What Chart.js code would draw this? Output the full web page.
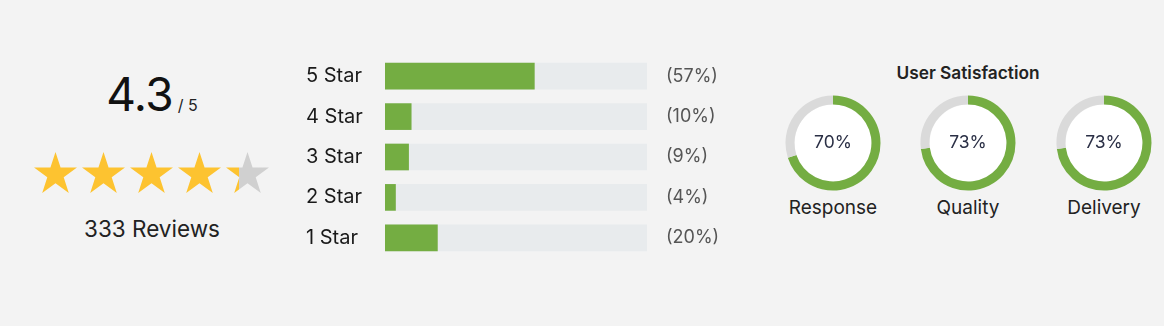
<!DOCTYPE html>
<html>
<head>
<meta charset="utf-8">
<script src="https://cdn.jsdelivr.net/npm/chart.js@4"></script>
<style>
  html, body { margin: 0; padding: 0; }
  body { width: 1164px; height: 326px; background: #f3f3f3; font-family: Inter, "Noto Sans", sans-serif; position: relative; overflow: hidden; color: #111; }
  .score { position: absolute; left: 0; width: 304px; top: 66px; text-align: center; }
  .score .big { font-size: 46px; color: #111; letter-spacing: -0.5px; }
  .score .small { font-size: 16px; color: #222; }
  #stars { position: absolute; left: 34px; top: 152px; }
  .reviews { position: absolute; left: 0; width: 304px; top: 215px; text-align: center; font-size: 22.5px; color: #222; }
  #barWrap { position: absolute; left: 306px; top: 56px; width: 421px; height: 202px; }
  .sat-title { position: absolute; left: 868px; width: 200px; top: 62px; text-align: center; font-size: 17.3px; font-weight: 600; color: #222; }
  .ring { position: absolute; top: 93px; width: 100px; height: 100px; }
  .ring-label { position: absolute; top: 196px; width: 160px; text-align: center; font-size: 19px; color: #222; }
</style>
</head>
<body>
<div class="score"><span class="big">4.3</span><span class="small"> / 5</span></div>
<div id="stars"></div>
<div class="reviews" id="reviews"></div>
<div id="barWrap"><canvas id="bars"></canvas></div>
<div class="sat-title">User Satisfaction</div>
<div id="rings"></div>
<script>
// rating summary
const rating = 4.3;
const maxRating = 5;
const reviewCount = 333;

// star breakdown
const starLabels = ['5 Star', '4 Star', '3 Star', '2 Star', '1 Star'];
const starPercents = [57, 10, 9, 4, 20];

// user satisfaction
const satLabels = ['Response', 'Quality', 'Delivery'];
const satValues = [70, 73, 73];
const satCenters = [833, 968, 1104];

const green = '#74ad42';

document.getElementById('reviews').textContent = reviewCount + ' Reviews';

// stars as svg, last one partly filled
(function () {
  const R = 22.6, r = R * 0.382, pitch = 48;
  let pts = [];
  for (let k = 0; k < 10; k++) {
    const a = -Math.PI / 2 + k * Math.PI / 5;
    const rad = k % 2 === 0 ? R : r;
    pts.push((rad * Math.cos(a)).toFixed(2) + ',' + (rad * Math.sin(a)).toFixed(2));
  }
  let svg = '<svg width="' + (pitch * maxRating) + '" height="42">';
  for (let i = 0; i < maxRating; i++) {
    const fill = Math.max(0, Math.min(1, rating - i));
    const id = 'g' + i;
    svg += '<defs><linearGradient id="' + id + '" x1="0" x2="1" y1="0" y2="0">' +
      '<stop offset="' + fill + '" stop-color="#fdc330"/><stop offset="' + fill + '" stop-color="#d0d0d0"/></linearGradient></defs>';
    svg += '<polygon transform="translate(' + (21.5 + i * pitch) + ',' + R + ')" points="' + pts.join(' ') + '" fill="url(#' + id + ')"/>';
  }
  svg += '</svg>';
  document.getElementById('stars').innerHTML = svg;
})();

Chart.defaults.font.family = 'Inter, "Noto Sans", sans-serif';
Chart.defaults.animation = false;

// fixed axis width, no extra top/bottom padding from the labels
const fixAxis = w => s => { s.width = w; s.paddingTop = 0; s.paddingBottom = 0; };

new Chart(document.getElementById('bars'), {
  type: 'bar',
  data: {
    labels: starLabels,
    datasets: [
      { data: starPercents, backgroundColor: green, barThickness: 26, grouped: false, order: 0, yAxisID: 'y' },
      { data: starLabels.map(() => 100), backgroundColor: '#e8ebed', barThickness: 26, grouped: false, order: 1, yAxisID: 'y' }
    ]
  },
  options: {
    indexAxis: 'y',
    responsive: true,
    maintainAspectRatio: false,
    layout: { padding: 0 },
    plugins: { legend: { display: false }, tooltip: { enabled: false } },
    scales: {
      x: { display: false, min: 0, max: 100 },
      y: {
        grid: { display: false, drawTicks: false }, border: { display: false },
        ticks: { crossAlign: 'far', color: '#1a1a1a', font: { size: 20 }, padding: 0 },
        afterFit: fixAxis(79)
      },
      y2: {
        position: 'right', type: 'category', labels: starPercents.map(v => '(' + v + '%)'),
        grid: { display: false, drawTicks: false }, border: { display: false },
        ticks: { color: '#555', font: { size: 18 }, padding: 19 },
        afterFit: fixAxis(80)
      }
    }
  }
});

// white center + percentage text
const ringCenter = {
  id: 'ringCenter',
  beforeDatasetsDraw(chart) {
    const arc = chart.getDatasetMeta(0).data[0];
    const ctx = chart.ctx;
    ctx.save();
    ctx.fillStyle = '#ffffff';
    ctx.beginPath();
    ctx.arc(arc.x, arc.y, arc.innerRadius, 0, Math.PI * 2);
    ctx.fill();
    ctx.restore();
  },
  afterDraw(chart, args, opts) {
    const arc = chart.getDatasetMeta(0).data[0];
    const ctx = chart.ctx;
    ctx.save();
    ctx.fillStyle = '#2a2f45';
    ctx.font = '17.5px Inter, "Noto Sans", sans-serif';
    ctx.textAlign = 'center';
    ctx.textBaseline = 'middle';
    ctx.fillText(opts.text, arc.x, arc.y);
    ctx.restore();
  }
};

const rings = document.getElementById('rings');
satLabels.forEach((label, i) => {
  const c = document.createElement('canvas');
  c.width = 100; c.height = 100;
  c.className = 'ring';
  c.style.left = (satCenters[i] - 50) + 'px';
  rings.appendChild(c);
  const lab = document.createElement('div');
  lab.className = 'ring-label';
  lab.style.left = (satCenters[i] - 80) + 'px';
  lab.textContent = label;
  rings.appendChild(lab);
  new Chart(c, {
    type: 'doughnut',
    data: {
      labels: [label, ''],
      datasets: [{ data: [satValues[i], 100 - satValues[i]], backgroundColor: [green, '#dadada'], borderWidth: 0 }]
    },
    options: {
      responsive: false,
      cutout: 40.5,
      radius: 47.5,
      layout: { padding: 0 },
      plugins: { legend: { display: false }, tooltip: { enabled: false }, ringCenter: { text: satValues[i] + '%' } }
    },
    plugins: [ringCenter]
  });
});
</script>
</body>
</html>
